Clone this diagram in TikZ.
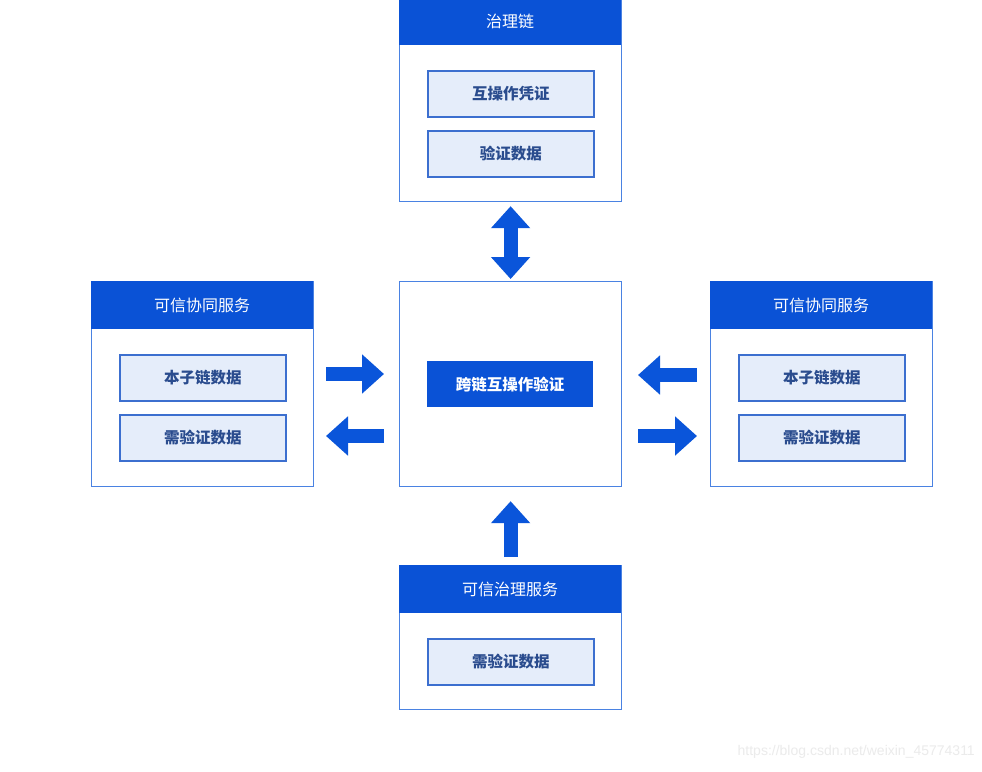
\documentclass[tikz,border=0pt]{standalone}
\usepackage{fontspec}
\newfontfamily\cjk{Noto Sans CJK SC}
\newfontfamily\wm{Liberation Sans}
\usetikzlibrary{arrows.meta}
\definecolor{hdr}{HTML}{0A52D6}
\definecolor{outline}{HTML}{4A82E2}
\definecolor{itemfill}{HTML}{E5EDFA}
\definecolor{itemline}{HTML}{3C6FCF}
\definecolor{itemtext}{HTML}{2A4C8E}
\definecolor{arrowc}{HTML}{0A55DA}
\definecolor{wmgray}{HTML}{EBEBEB}
\begin{document}
\begin{tikzpicture}[x=1pt,y=-1pt,
  outerbox/.style={draw=outline, line width=1.2pt, fill=white, anchor=north west, minimum width=222pt, inner sep=0pt},
  header/.style={fill=hdr, anchor=north west, minimum width=222pt, inner sep=0pt, text=white, font=\cjk\fontsize{16}{16}\selectfont},
  item/.style={draw=itemline, fill=itemfill, line width=1.5pt, minimum width=166pt, minimum height=46pt, inner sep=0pt, anchor=north west, text=itemtext, font=\cjk\bfseries\fontsize{15.5}{16}\selectfont},
  core/.style={fill=hdr, minimum width=166pt, minimum height=46pt, inner sep=0pt, anchor=north west, text=white, font=\cjk\bfseries\fontsize{15.5}{16}\selectfont},
  fat/.style={draw=arrowc, line width=14pt, -{Triangle[length=22pt,width=38pt]}},
  fatboth/.style={draw=arrowc, line width=14pt, {Triangle[length=22pt,width=38pt]}-{Triangle[length=22pt,width=38pt]}}
]
\useasboundingbox[fill=white] (0,0) rectangle (982,771);

% top box
\node[outerbox, minimum height=203pt] (topbox) at (399,-2) {};
\node[header, minimum height=47pt] (tophdr) at (399,-2) {治理链};
\node[item] (t1) at (427,70) {互操作凭证};
\node[item] (t2) at (427,130) {验证数据};

% center box
\node[outerbox, minimum height=205pt] (center) at (399,281) {};
\node[core] (c1) at (427,361) {跨链互操作验证};

% left box
\node[outerbox, minimum height=205pt] (leftbox) at (91,281) {};
\node[header, minimum height=48pt] (lefthdr) at (91,281) {可信协同服务};
\node[item] (l1) at (119,354) {本子链数据};
\node[item] (l2) at (119,414) {需验证数据};

% right box
\node[outerbox, minimum height=205pt] (rightbox) at (710,281) {};
\node[header, minimum height=48pt] (righthdr) at (710,281) {可信协同服务};
\node[item] (r1) at (738,354) {本子链数据};
\node[item] (r2) at (738,414) {需验证数据};

% bottom box
\node[outerbox, minimum height=144pt] (botbox) at (399,565) {};
\node[header, minimum height=48pt] (bothdr) at (399,565) {可信治理服务};
\node[item] (b1) at (427,638) {需验证数据};

% arrows
\draw[fatboth] ([yshift=-4pt]topbox.south) -- ([yshift=2pt]center.north);
\coordinate (la1) at (326,374); \coordinate (la2) at (384,374);
\coordinate (lb1) at (384,436); \coordinate (lb2) at (326,436);
\coordinate (ra1) at (697,375); \coordinate (ra2) at (638,375);
\coordinate (rb1) at (638,436); \coordinate (rb2) at (697,436);
\draw[fat] (la1) -- (la2);
\draw[fat] (lb1) -- (lb2);
\draw[fat] (ra1) -- (ra2);
\draw[fat] (rb1) -- (rb2);
\draw[fat] ([yshift=8pt]botbox.north) -- ([yshift=-14pt]center.south);

% watermark
\node[anchor=east, text=wmgray, font=\wm\fontsize{14}{14}\selectfont, inner sep=0pt] (wm) at (975,752) {https://blog.csdn.net/weixin\_45774311};
\end{tikzpicture}
\end{document}
